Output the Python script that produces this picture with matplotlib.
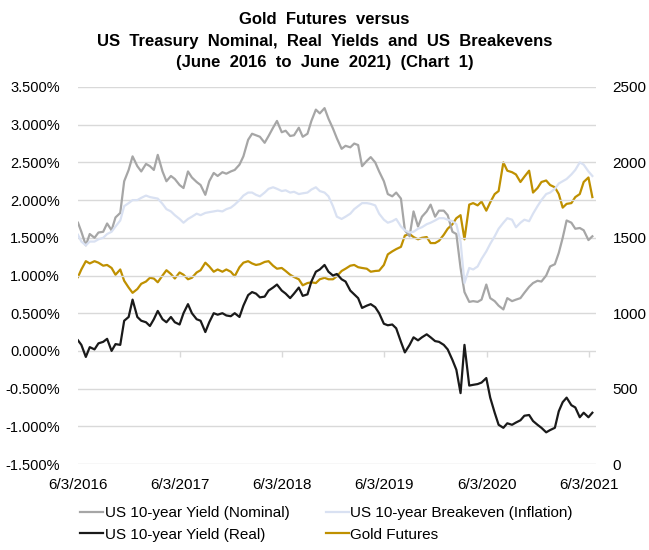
import numpy as np
import pandas as pd
import matplotlib
matplotlib.use("Agg")
import matplotlib.pyplot as plt
import matplotlib.dates as mdates
from matplotlib.ticker import FuncFormatter, FixedLocator

plt.rcParams["font.family"] = ["Liberation Sans", "DejaVu Sans"]

# semi-monthly observations, 6/3/2016 to mid June 2021
dates = pd.date_range("2016-06-01", "2021-06-15", freq="SMS")
dates = dates.where(dates != pd.Timestamp("2016-06-01"), pd.Timestamp("2016-06-03"))

nominal = [
    1.70, 1.58, 1.40, 1.55, 1.50, 1.57, 1.58, 1.69, 1.60, 1.77, 1.83, 2.25, 2.40, 2.58,
    2.45, 2.38, 2.48, 2.45, 2.40, 2.60, 2.38, 2.25, 2.32, 2.28, 2.20, 2.16,
    2.38, 2.30, 2.24, 2.20, 2.07, 2.25, 2.36, 2.32, 2.37, 2.35, 2.38, 2.40,
    2.47, 2.58, 2.80, 2.88, 2.86, 2.84, 2.76, 2.85, 2.96, 3.05, 2.90, 2.92,
    2.85, 2.86, 2.96, 2.84, 2.88, 3.05, 3.20, 3.15, 3.22, 3.08, 2.95, 2.82,
    2.68, 2.72, 2.70, 2.75, 2.73, 2.45, 2.52, 2.57, 2.50, 2.38, 2.25, 2.08,
    2.05, 2.10, 2.02, 1.60, 1.52, 1.85, 1.65, 1.78, 1.85, 1.94, 1.78, 1.86,
    1.86, 1.80, 1.58, 1.55, 1.10, 0.78, 0.65, 0.66, 0.65, 0.68, 0.88, 0.70,
    0.66, 0.60, 0.55, 0.70, 0.66, 0.68, 0.70, 0.77, 0.85, 0.90, 0.93, 0.92,
    1.00, 1.12, 1.15, 1.30, 1.50, 1.73, 1.70, 1.62, 1.63, 1.60, 1.47, 1.52,
]

breakeven = [
    1.54, 1.45, 1.40, 1.45, 1.45, 1.48, 1.50, 1.55, 1.58, 1.65, 1.73, 1.92, 1.96, 2.00,
    2.00, 2.03, 2.06, 2.04, 2.03, 2.02, 1.95, 1.88, 1.85, 1.80, 1.75, 1.70,
    1.75, 1.78, 1.82, 1.80, 1.83, 1.84, 1.85, 1.86, 1.85, 1.88, 1.90, 1.94,
    2.00, 2.06, 2.10, 2.10, 2.07, 2.05, 2.10, 2.15, 2.17, 2.15, 2.12, 2.13,
    2.10, 2.11, 2.08, 2.09, 2.10, 2.14, 2.17, 2.12, 2.10, 2.05, 1.92, 1.78,
    1.75, 1.78, 1.82, 1.88, 1.92, 1.96, 1.96, 1.95, 1.93, 1.82, 1.74, 1.70,
    1.72, 1.75, 1.65, 1.60, 1.57, 1.58, 1.62, 1.64, 1.68, 1.70, 1.73, 1.76,
    1.76, 1.74, 1.72, 1.68, 1.45, 0.90, 1.10, 1.08, 1.12, 1.22, 1.32, 1.42,
    1.52, 1.62, 1.70, 1.76, 1.74, 1.64, 1.70, 1.74, 1.72, 1.82, 1.92, 2.00,
    2.08, 2.10, 2.15, 2.22, 2.25, 2.28, 2.34, 2.40, 2.50, 2.47, 2.38, 2.32,
]

real = [
    0.14, 0.08, -0.08, 0.05, 0.02, 0.10, 0.12, 0.16, 0.00, 0.09, 0.08, 0.40, 0.45, 0.68,
    0.45, 0.40, 0.38, 0.33, 0.42, 0.53, 0.42, 0.38, 0.45, 0.38, 0.35, 0.50,
    0.62, 0.50, 0.42, 0.40, 0.25, 0.38, 0.50, 0.48, 0.50, 0.47, 0.46, 0.50,
    0.45, 0.60, 0.74, 0.78, 0.76, 0.71, 0.72, 0.80, 0.84, 0.88, 0.80, 0.76,
    0.70, 0.76, 0.84, 0.73, 0.75, 0.92, 1.05, 1.08, 1.14, 1.05, 1.00, 1.02,
    0.95, 0.92, 0.80, 0.75, 0.70, 0.57, 0.60, 0.62, 0.58, 0.50, 0.36, 0.34,
    0.35, 0.30, 0.12, -0.02, 0.08, 0.18, 0.14, 0.18, 0.22, 0.18, 0.13, 0.12,
    0.08, 0.02, -0.12, -0.25, -0.56, 0.08, -0.46, -0.45, -0.44, -0.42, -0.36, -0.62,
    -0.82, -0.98, -1.02, -0.96, -0.98, -0.95, -0.92, -0.86, -0.85, -0.93, -0.98, -1.02,
    -1.08, -1.05, -1.02, -0.80, -0.68, -0.62, -0.72, -0.75, -0.88, -0.82, -0.88, -0.82,
]

gold = [
    1240, 1290, 1345, 1330, 1345, 1335, 1315, 1320, 1300, 1255, 1290, 1215, 1170, 1135,
    1160, 1195, 1210, 1235, 1230, 1205, 1250, 1285, 1260, 1230, 1270, 1255,
    1225, 1235, 1270, 1285, 1335, 1310, 1275, 1290, 1275, 1290, 1275, 1245,
    1305, 1335, 1345, 1330, 1320, 1325, 1340, 1345, 1315, 1295, 1300, 1280,
    1255, 1240, 1225, 1185, 1200, 1205, 1200, 1225, 1235, 1225, 1225, 1245,
    1280, 1295, 1315, 1320, 1305, 1300, 1295, 1275, 1280, 1282, 1320, 1390,
    1410, 1425, 1440, 1515, 1525, 1505, 1490, 1500, 1505, 1465, 1465, 1480,
    1520, 1560, 1590, 1630, 1650, 1490, 1720, 1730, 1715, 1740, 1680, 1735,
    1790, 1810, 2000, 1945, 1935, 1920, 1870, 1905, 1945, 1800, 1830, 1870,
    1880, 1850, 1835, 1790, 1700, 1725, 1730, 1770, 1790, 1870, 1900, 1770,
]

date_ticks = ["2016-06-03", "2017-06-03", "2018-06-03", "2019-06-03",
              "2020-06-03", "2021-06-03"]
pct_ticks = [-1.5, -1.0, -0.5, 0.0, 0.5, 1.0, 1.5, 2.0, 2.5, 3.0, 3.5]
gold_ticks = [0, 500, 1000, 1500, 2000, 2500]

title = ("Gold  Futures  versus\n"
         "US  Treasury  Nominal,  Real  Yields  and  US  Breakevens\n"
         "(June  2016  to  June  2021)  (Chart  1)")

grid_col = "#D9D9D9"

fig = plt.figure(figsize=(6.49, 5.5), dpi=100)
ax = fig.add_axes([78 / 649, 1 - 464 / 550, (596 - 78) / 649, (464 - 87) / 550])
ax2 = ax.twinx()

l_nom, = ax.plot(dates, nominal, color="#A6A6A6", lw=1.6,
                 label="US 10-year Yield (Nominal)", zorder=3)
l_be, = ax.plot(dates, breakeven, color="#D9E1F2", lw=1.6,
                label="US 10-year Breakeven (Inflation)", zorder=4)
l_real, = ax.plot(dates, real, color="#1A1A1A", lw=1.6,
                  label="US 10-year Yield (Real)", zorder=5)
l_gold, = ax2.plot(dates, gold, color="#BF9000", lw=1.6, label="Gold Futures")

ax.set_zorder(ax2.get_zorder() + 1)
ax.patch.set_visible(False)

tick_pos = pd.to_datetime(date_ticks)
ax.set_xlim(pd.Timestamp("2016-06-03"), pd.Timestamp("2021-06-28"))
ax.set_ylim(-1.5, 3.5)
ax2.set_ylim(0, 2500)

ax.yaxis.set_major_locator(FixedLocator(pct_ticks))
ax.yaxis.set_major_formatter(FuncFormatter(lambda v, p: f"{v:.3f}%"))
ax2.yaxis.set_major_locator(FixedLocator(gold_ticks))

ax.set_xticks(tick_pos)
ax.set_xticklabels([f"{d.month}/{d.day}/{d.year}" for d in tick_pos])

for v in pct_ticks:
    ax.axhline(v, color=grid_col, lw=1.0, zorder=1)
# category axis crosses at 0 with short tick marks
ax.vlines(tick_pos[1:], -0.08, 0.0, color=grid_col, lw=1.0, zorder=1)

for a in (ax, ax2):
    for s in a.spines.values():
        s.set_visible(False)
    a.tick_params(length=0, colors="#000000")

ax.tick_params(axis="y", labelsize=10.5, pad=13)
ax.tick_params(axis="x", labelsize=11, pad=10)
ax2.tick_params(axis="y", labelsize=11, pad=12)

fig.text(0.5, 1 - 12 / 550, title, ha="center", va="top", fontsize=12,
         fontweight="bold", linespacing=1.55)

fig.legend(handles=[l_nom, l_real, l_be, l_gold], ncol=2, frameon=False,
           loc="upper left", bbox_to_anchor=(74 / 649, 1 - 500 / 550),
           fontsize=11, handlelength=1.5, handletextpad=0.1,
           columnspacing=2.4, labelspacing=0.5, borderaxespad=0)

fig.savefig("out.png", dpi=100)
